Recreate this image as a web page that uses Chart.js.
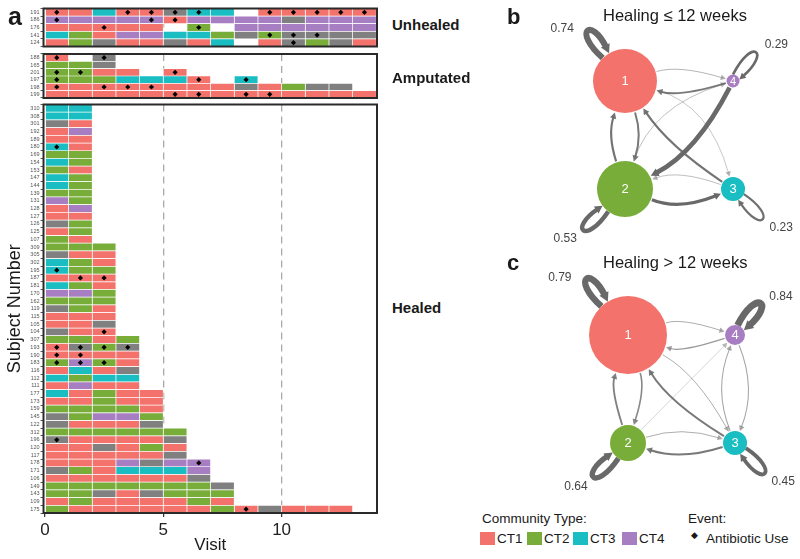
<!DOCTYPE html>
<html>
<head>
<meta charset="utf-8">
<script src="https://cdn.jsdelivr.net/npm/chart.js@4.4.0/dist/chart.umd.min.js"></script>
<style>
  body { margin: 0; width: 800px; height: 559px; position: relative; overflow: hidden; background: #fff;
         font-family: "Liberation Sans", Arial, sans-serif; color: #1a1a1a; }
  canvas { position: absolute; }
  .t { position: absolute; white-space: nowrap; line-height: 1; }
  .b { font-weight: bold; }
  .sq { position: absolute; width: 15px; height: 13px; }
</style>
</head>
<body>
<canvas id="unhealed" width="380" height="52" style="left:0px;top:0px"></canvas>
<canvas id="amputated" width="380" height="56" style="left:0px;top:48px"></canvas>
<canvas id="healed" width="380" height="459" style="left:0px;top:100px"></canvas>
<canvas id="net-b" width="300" height="255" style="left:500px;top:0px"></canvas>
<canvas id="net-c" width="300" height="250" style="left:500px;top:255px"></canvas>

<div class="t b" style="left:8px;top:4px;font-size:25px">a</div>
<div class="t b" style="left:392px;top:17px;font-size:15px">Unhealed</div>
<div class="t b" style="left:392px;top:70px;font-size:15px">Amputated</div>
<div class="t b" style="left:392px;top:300px;font-size:15px">Healed</div>

<div class="t b" style="left:507px;top:6px;font-size:22px">b</div>
<div class="t" style="left:603px;top:7px;font-size:16.5px">Healing ≤ 12 weeks</div>
<div class="t b" style="left:507px;top:252px;font-size:22px">c</div>
<div class="t" style="left:603px;top:254px;font-size:16.5px">Healing &gt; 12 weeks</div>

<div id="legend"></div>

<script>
'use strict';

// --- Data -----------------------------------------------------------------

const VISITS = 14;
const VISIT_TICKS = [0, 5, 10];
const CT_NAMES = ['CT1', 'CT2', 'CT3', 'CT4'];
// CT1..CT4, then 5 = no community type (grey)
const CT_COLORS = ['#F3736C', '#78AD3A', '#19BDC2', '#A77EC2', '#808080'];

// one char per visit: 1-4 = community type, 5 = grey, '.' = no sample
const UNHEALED_IDS = ['191', '186', '176', '141', '124'];
const UNHEALED_SEQ = ['11311533.11111', '44444144445444', '11111.2.444444', '32144332525555', '12511513.15251'];
const UNHEALED_ABX = [['191', [0, 3, 4, 5, 6, 9, 10, 11, 12, 13]], ['186', [0, 4, 5]], ['176', [2, 6]],
  ['141', [9, 10, 11]], ['124', [10]]];

const AMPUTATED_IDS = ['188', '165', '201', '197', '198', '199'];
const AMPUTATED_SEQ = ['1.5', '225', '2211.1', '2223331.3', '1111111151255', '11111111111111'];
const AMPUTATED_ABX = [['188', [0, 2]], ['201', [0, 1, 5]], ['197', [0, 6, 8]], ['198', [0, 2, 3, 4]],
  ['199', [5, 6, 8, 9]]];

const HEALED_IDS = ['310', '308', '301', '192', '189', '180', '169', '154', '153', '147', '144', '139', '131',
  '128', '127', '126', '125', '107', '309', '305', '302', '195', '187', '181', '170', '162', '119', '115', '105',
  '104', '307', '193', '190', '183', '116', '112', '111', '177', '173', '159', '145', '122', '312', '196', '120',
  '117', '178', '171', '106', '149', '143', '109', '175'];
const HEALED_SEQ = ['33', '33', '51', '14', '11', '31', '22', '32', '21', '32', '32', '22', '42',
  '14', '11', '52', '12', '21', '222', '511', '321', '322', '111', '321', '442', '222', '521', '111', '115',
  '511', '2212', '1525', '1111', '2421', '1315', '3233', '1411', '31211', '11211', '22221', '52442', '51115',
  '222222', '511115', '115121', '111115', '1114544', '5213334', '1111115', '22222225', '22515222', '12111121',
  '2111111215111'];
const HEALED_ABX = [['180', [0]], ['195', [0]], ['187', [1, 2]], ['104', [2]], ['193', [0, 1, 2, 3]],
  ['190', [0, 1]], ['183', [0, 1, 2]], ['196', [0]], ['178', [6]], ['175', [8]]];

// Transition networks: [from, to, probability, bend]
const EDGES_B = [[1, 4, 0.05, 0.15], [4, 1, 0.2, 0.15], [1, 2, 0.2, 0.16], [2, 1, 0.22, 0.16],
  [4, 2, 0.55, 0.16], [2, 4, 0.04, 0.26], [1, 3, 0.03, 0.28], [3, 1, 0.22, 0.1],
  [2, 3, 0.35, -0.2], [3, 2, 0.04, -0.18]];
const LOOPS_B = [0.74, 0.53, 0.23, 0.29]; // self transitions CT1..CT4
const NODE_R_B = [32, 28, 12, 6.5];

const EDGES_C = [[1, 4, 0.06, 0.16], [4, 1, 0.1, 0.16], [1, 2, 0.15, 0.16], [2, 1, 0.18, 0.16],
  [2, 4, 0.01, 0], [1, 3, 0.06, 0.14], [3, 1, 0.2, 0.12], [2, 3, 0.06, 0.16], [3, 2, 0.2, 0.16],
  [3, 4, 0.07, 0.2], [4, 3, 0.07, 0.2]];
const LOOPS_C = [0.79, 0.64, 0.45, 0.84];
const NODE_R_C = [39, 18, 12, 10];

// node layout (CT1..CT4) shared by both networks
const NODE_X = [0, 0, 1, 1];
const NODE_Y = [1, 0, 0, 1];
const LOOP_ANGLE = [-127, 135, 45, -52];
const LOOP_LABEL_ANGLE = [-140, 140, 39, -40];

// --- Heatmaps -------------------------------------------------------------

const framePlugin = {
  id: 'frame',
  afterDraw(chart) {
    const { ctx, chartArea: a } = chart;
    ctx.save();
    ctx.strokeStyle = '#2a2a2a';
    ctx.lineWidth = 2;
    ctx.strokeRect(a.left, a.top, a.right - a.left, a.bottom - a.top);
    ctx.restore();
  },
};

function makeHeatmap(id, ids, seqs, abx, opts) {
  const datasets = [{
    type: 'scatter',
    data: abx.flatMap(([sid, vs]) => vs.map((v) => ({ x: v + 0.5, y: sid }))),
    pointStyle: 'rectRot',
    radius: 2.6,
    backgroundColor: '#000',
    borderWidth: 0,
  }];
  for (let v = 0; v < VISITS; v++) {
    datasets.push({
      type: 'bar',
      data: seqs.map((s) => (s[v] && s[v] !== '.' ? [v, v + 1] : null)),
      backgroundColor: seqs.map((s) => CT_COLORS[Number(s[v]) - 1] || 'rgba(0,0,0,0)'),
      borderColor: '#ffffff',
      borderWidth: 0.7,
      borderSkipped: false,
      barPercentage: 1,
      categoryPercentage: 1,
      grouped: false,
    });
  }
  return new Chart(document.getElementById(id), {
    data: { labels: ids, datasets },
    options: {
      indexAxis: 'y',
      responsive: false,
      animation: false,
      events: [],
      layout: { autoPadding: false, padding: { top: opts.padTop, bottom: opts.padBottom, left: 0, right: 3 } },
      plugins: { legend: { display: false }, tooltip: { enabled: false } },
      scales: {
        x: {
          type: 'linear',
          min: -0.06,
          max: 14.03,
          afterBuildTicks: (s) => { s.ticks = VISIT_TICKS.map((v) => ({ value: v })); },
          afterFit: (s) => { s.height = opts.showX ? 46 : 0; },
          grid: {
            color: (c) => (c.tick && c.tick.value > 0 ? '#a9a9a9' : 'rgba(0,0,0,0)'),
            lineWidth: 1.3,
            drawTicks: !!opts.showX,
            tickLength: 4,
            tickColor: '#333',
            tickWidth: 1.2,
          },
          border: { display: false, dash: [7, 5] },
          ticks: { display: !!opts.showX, color: '#222', font: { size: 17 }, padding: 3 },
          title: { display: !!opts.showX, text: 'Visit', color: '#1a1a1a', font: { size: 17 }, padding: { top: 0, bottom: 3 } },
        },
        y: {
          type: 'category',
          offset: true,
          afterFit: (s) => { s.width = 43.5; },
          grid: { drawOnChartArea: false, drawTicks: true, tickLength: 3, tickColor: '#333', tickWidth: 0.8 },
          border: { display: false },
          ticks: { autoSkip: false, color: '#555', font: { size: 5.5 }, padding: 1 },
          title: { display: !!opts.showY, text: 'Subject Number', color: '#1a1a1a', font: { size: 18 }, padding: { top: 4, bottom: 0 } },
        },
      },
    },
    plugins: [framePlugin],
  });
}

makeHeatmap('unhealed', UNHEALED_IDS, UNHEALED_SEQ, UNHEALED_ABX, { padTop: 8.5, padBottom: 5.5 });
makeHeatmap('amputated', AMPUTATED_IDS, AMPUTATED_SEQ, AMPUTATED_ABX, { padTop: 6, padBottom: 6 });
makeHeatmap('healed', HEALED_IDS, HEALED_SEQ, HEALED_ABX, { padTop: 4.5, padBottom: 0, showX: true, showY: true });

// --- Networks -------------------------------------------------------------

function edgeStyle(w) {
  return { lw: 0.5 + w * 7.5, color: `rgba(105,105,105,${Math.min(1, 0.45 + w * 2.2)})` };
}

function arrowHead(ctx, tip, t, lw, color) {
  const la = 4.5 + lw * 0.7;
  const hw = 2.4 + lw * 0.4;
  ctx.fillStyle = color;
  ctx.beginPath();
  ctx.moveTo(tip.x, tip.y);
  ctx.lineTo(tip.x - t.x * la - t.y * hw, tip.y - t.y * la + t.x * hw);
  ctx.lineTo(tip.x - t.x * la + t.y * hw, tip.y - t.y * la - t.x * hw);
  ctx.closePath();
  ctx.fill();
  return la;
}

function drawEdge(ctx, p, q, rp, rq, w, bend) {
  const { lw, color } = edgeStyle(w);
  const dx = q.x - p.x, dy = q.y - p.y, d = Math.hypot(dx, dy);
  const cx = (p.x + q.x) / 2 + (dy / d) * bend * d;
  const cy = (p.y + q.y) / 2 + (-dx / d) * bend * d;
  const a0 = Math.atan2(cy - p.y, cx - p.x);
  const a1 = Math.atan2(cy - q.y, cx - q.x);
  const s = { x: p.x + Math.cos(a0) * (rp + 1), y: p.y + Math.sin(a0) * (rp + 1) };
  const e = { x: q.x + Math.cos(a1) * (rq + 1), y: q.y + Math.sin(a1) * (rq + 1) };
  const tl = Math.hypot(e.x - cx, e.y - cy);
  const t = { x: (e.x - cx) / tl, y: (e.y - cy) / tl };
  ctx.save();
  const la = arrowHead(ctx, e, t, lw, color);
  ctx.strokeStyle = color;
  ctx.lineWidth = lw;
  ctx.beginPath();
  ctx.moveTo(s.x, s.y);
  ctx.quadraticCurveTo(cx, cy, e.x - t.x * la * 0.8, e.y - t.y * la * 0.8);
  ctx.stroke();
  ctx.restore();
}

function drawLoop(ctx, c, r, w, angleDeg) {
  const { lw, color } = edgeStyle(w);
  const th = angleDeg * Math.PI / 180;
  const u = { x: Math.cos(th), y: Math.sin(th) };
  const v = { x: -u.y, y: u.x };
  const dl = Math.asin(Math.min(0.8, 4 / r));
  const s = { x: c.x + r * Math.cos(th - dl), y: c.y + r * Math.sin(th - dl) };
  const e = { x: c.x + r * Math.cos(th + dl), y: c.y + r * Math.sin(th + dl) };
  const b = { x: c.x + u.x * r, y: c.y + u.y * r };
  const L = 40, W = 12;
  const c1 = { x: b.x + u.x * L - v.x * W, y: b.y + u.y * L - v.y * W };
  const c2 = { x: b.x + u.x * L + v.x * W, y: b.y + u.y * L + v.y * W };
  const tl = Math.hypot(e.x - c2.x, e.y - c2.y);
  const t = { x: (e.x - c2.x) / tl, y: (e.y - c2.y) / tl };
  ctx.save();
  const la = arrowHead(ctx, e, t, lw, color);
  ctx.strokeStyle = color;
  ctx.lineWidth = lw;
  ctx.beginPath();
  ctx.moveTo(s.x, s.y);
  ctx.bezierCurveTo(c1.x, c1.y, c2.x, c2.y, e.x - t.x * la * 0.7, e.y - t.y * la * 0.7);
  ctx.stroke();
  ctx.restore();
}

function makeNetwork(id, radii, edges, loops, xr, yr) {
  const netPlugin = {
    id: 'net',
    beforeDatasetsDraw(chart) {
      const { ctx, scales: { x, y } } = chart;
      const pos = NODE_X.map((nx, i) => ({ x: x.getPixelForValue(nx), y: y.getPixelForValue(NODE_Y[i]) }));
      edges.forEach(([a, b, w, bend]) => drawEdge(ctx, pos[a - 1], pos[b - 1], radii[a - 1], radii[b - 1], w, bend));
      loops.forEach((w, i) => drawLoop(ctx, pos[i], radii[i], w, LOOP_ANGLE[i]));
    },
    afterDatasetsDraw(chart) {
      const { ctx, scales: { x, y } } = chart;
      ctx.save();
      ctx.textAlign = 'center';
      ctx.textBaseline = 'middle';
      NODE_X.forEach((nx, i) => {
        const px = x.getPixelForValue(nx), py = y.getPixelForValue(NODE_Y[i]);
        ctx.fillStyle = '#fff';
        ctx.font = `${radii[i] < 8 ? 11 : 13}px "Liberation Sans", Arial, sans-serif`;
        ctx.fillText(String(i + 1), px, py + 0.5);
        const la = LOOP_LABEL_ANGLE[i] * Math.PI / 180;
        const dist = radii[i] + 50;
        ctx.fillStyle = '#444';
        ctx.font = '12px "Liberation Sans", Arial, sans-serif';
        ctx.fillText(loops[i].toFixed(2), px + Math.cos(la) * dist, py + Math.sin(la) * dist);
      });
      ctx.restore();
    },
  };
  return new Chart(document.getElementById(id), {
    type: 'bubble',
    data: {
      datasets: [{
        data: NODE_X.map((nx, i) => ({ x: nx, y: NODE_Y[i], r: radii[i] })),
        backgroundColor: CT_COLORS.slice(0, 4),
        borderWidth: 0,
        clip: false,
      }],
    },
    options: {
      responsive: false,
      animation: false,
      events: [],
      layout: { autoPadding: false, padding: 0 },
      plugins: { legend: { display: false }, tooltip: { enabled: false } },
      scales: {
        x: { type: 'linear', display: false, min: xr[0], max: xr[1] },
        y: { type: 'linear', display: false, min: yr[0], max: yr[1] },
      },
    },
    plugins: [netPlugin],
  });
}

makeNetwork('net-b', NODE_R_B, EDGES_B, LOOPS_B, [-1.157, 1.62], [-0.611, 1.75]);
makeNetwork('net-c', NODE_R_C, EDGES_C, LOOPS_C, [-1.196, 1.607], [-0.574, 1.741]);

// --- Legend ---------------------------------------------------------------

(function buildLegend() {
  const el = document.getElementById('legend');
  let html = '<div class="t" style="left:482px;top:512px;font-size:13.5px">Community Type:</div>';
  const starts = [480, 527, 573, 622];
  CT_NAMES.forEach((name, i) => {
    html += `<div class="sq" style="left:${starts[i]}px;top:532px;background:${CT_COLORS[i]}"></div>`;
    html += `<div class="t" style="left:${starts[i] + 17}px;top:532px;font-size:13.5px">${name}</div>`;
  });
  html += '<div class="t" style="left:688px;top:512px;font-size:13.5px">Event:</div>';
  html += '<div class="t" style="left:691px;top:531px;font-size:9px">◆</div>';
  html += '<div class="t" style="left:706px;top:532px;font-size:13.5px">Antibiotic Use</div>';
  el.innerHTML = html;
})();
</script>
</body>
</html>
